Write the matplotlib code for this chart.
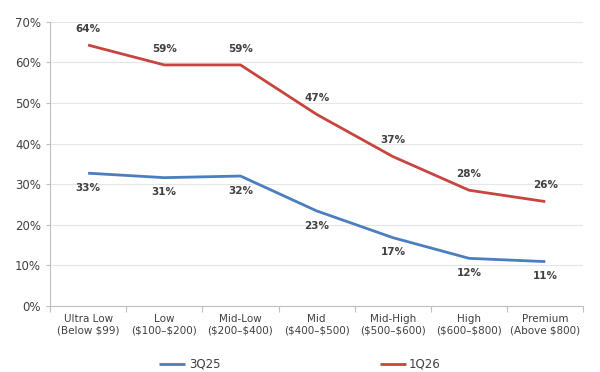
import matplotlib
matplotlib.use("Agg")
import matplotlib.pyplot as plt
from matplotlib.ticker import FixedLocator, PercentFormatter

categories = ["Ultra Low\n(Below \\$99)", "Low\n(\\$100–\\$200)", "Mid-Low\n(\\$200–\\$400)",
              "Mid\n(\\$400–\\$500)", "Mid-High\n(\\$500–\\$600)", "High\n(\\$600–\\$800)",
              "Premium\n(Above \\$800)"]
s3q25 = [32.7, 31.6, 32.0, 23.4, 16.8, 11.7, 10.9]
s1q26 = [64.3, 59.4, 59.4, 47.2, 36.8, 28.5, 25.7]
labels_3q25 = ["33%", "31%", "32%", "23%", "17%", "12%", "11%"]
labels_1q26 = ["64%", "59%", "59%", "47%", "37%", "28%", "26%"]

blue = "#4a7ebf"
red = "#c8453f"
txt = "#404040"

fig = plt.figure(figsize=(6, 3.72), dpi=100)
ax = fig.add_axes([0.0833, 0.178, 0.889, 0.763])
x = list(range(len(categories)))
ax.plot(x, s3q25, color=blue, lw=2.0, label="3Q25", solid_capstyle="butt")
ax.plot(x, s1q26, color=red, lw=2.0, label="1Q26", solid_capstyle="butt")

for xi, v, t in zip(x, s1q26, labels_1q26):
    ax.annotate(t, (xi, v), xytext=(0, 8), textcoords="offset points",
                ha="center", va="bottom", fontsize=7.5, color=txt, fontweight="bold")
for xi, v, t in zip(x, s3q25, labels_3q25):
    ax.annotate(t, (xi, v), xytext=(0, -7), textcoords="offset points",
                ha="center", va="top", fontsize=7.5, color=txt, fontweight="bold")

ax.set_xlim(-0.5, len(categories) - 0.5)
ax.set_ylim(0, 70)
ax.set_yticks(range(0, 71, 10))
ax.yaxis.set_major_formatter(PercentFormatter(decimals=0))
ax.set_xticks(x)
ax.set_xticklabels(categories, fontsize=7.5, color=txt)
ax.xaxis.set_minor_locator(FixedLocator([i + 0.5 for i in range(-1, len(categories))]))
ax.tick_params(axis="x", which="major", length=0, pad=6)
ax.tick_params(axis="x", which="minor", length=4, color="#bfbfbf", width=0.8)
ax.tick_params(axis="y", length=3, color="#bfbfbf", width=0.8, labelsize=8.5, labelcolor=txt)
ax.grid(axis="y", color="#e6e6e6", lw=0.8)
ax.set_axisbelow(True)
for s in ["top", "right"]:
    ax.spines[s].set_visible(False)
ax.spines["left"].set_color("#bfbfbf")
ax.spines["bottom"].set_color("#bfbfbf")

fig.legend(loc="lower center", bbox_to_anchor=(0.5, -0.025), ncol=2, frameon=False,
           fontsize=8.5, handlelength=2.2, handletextpad=0.3, columnspacing=13.5,
           labelcolor=txt)
fig.savefig("out.png", dpi=100, facecolor="white")
